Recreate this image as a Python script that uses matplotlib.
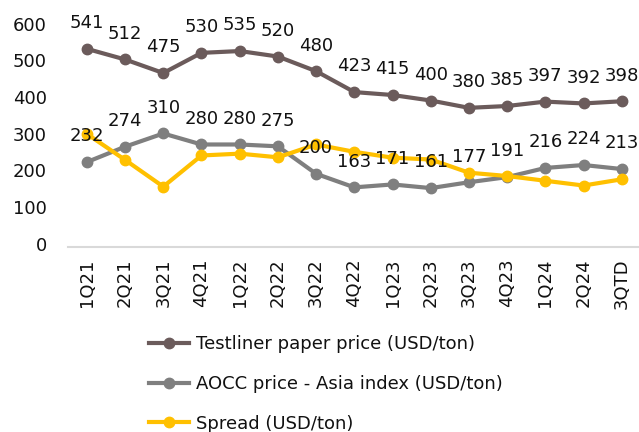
import numpy as np
import matplotlib.pyplot as plt
import matplotlib.transforms as mtransforms

quarters = ['1Q21', '2Q21', '3Q21', '4Q21', '1Q22', '2Q22', '3Q22', '4Q22',
            '1Q23', '2Q23', '3Q23', '4Q23', '1Q24', '2Q24', '3QTD']
testliner = [541, 512, 475, 530, 535, 520, 480, 423, 415, 400, 380, 385, 397, 392, 398]
aocc = [232, 274, 310, 280, 280, 275, 200, 163, 171, 161, 177, 191, 216, 224, 213]
spread = [309, 238, 165, 250, 255, 245, 280, 260, 244, 239, 203, 194, 181, 168, 185]

plt.rcParams['font.family'] = ['DejaVu Sans']
FS = 13

fig = plt.figure(figsize=(6.39, 4.32), dpi=100)
ax = fig.add_axes([0.106, 0.428, 0.897, 0.509])

x = np.arange(len(quarters))
ax.plot(x, testliner, color='#6B5B5B', lw=3, marker='o', ms=7.5,
        label='Testliner paper price (USD/ton)', zorder=3)
ax.plot(x, aocc, color='#7F7F7F', lw=3, marker='o', ms=7.5,
        label='AOCC price - Asia index (USD/ton)', zorder=2)
ax.plot(x, spread, color='#FFC000', lw=3, marker='o', ms=7.5,
        label='Spread (USD/ton)', zorder=4)

# data labels above testliner and aocc
for xi, v in zip(x, testliner):
    ax.annotate(str(v), (xi, v), xytext=(0, 12), textcoords='offset points',
                ha='center', va='bottom', fontsize=FS, color='#111111', zorder=5)
for xi, v in zip(x, aocc):
    ax.annotate(str(v), (xi, v), xytext=(0, 12), textcoords='offset points',
                ha='center', va='bottom', fontsize=FS, color='#111111', zorder=5)

ax.set_xlim(-0.5, len(quarters) - 0.5)
ax.set_ylim(0, 600)
ax.set_yticks(range(0, 700, 100))
ax.set_xticks(x)
ax.set_xticklabels(quarters)
ax.tick_params(axis='both', length=0, labelsize=FS, colors='#111111')
ax.tick_params(axis='y', pad=15)
ax.tick_params(axis='x', pad=8, labelrotation=90)
# y labels sit a little above their gridline in the original
shift = mtransforms.ScaledTranslation(0, 3.5 / 100, fig.dpi_scale_trans)
for lbl in ax.get_yticklabels():
    lbl.set_transform(lbl.get_transform() + shift)
for s in ['top', 'right', 'left']:
    ax.spines[s].set_visible(False)
ax.spines['bottom'].set_color('#D9D9D9')
ax.spines['bottom'].set_linewidth(1.5)

leg = ax.legend(loc='upper left', bbox_to_anchor=(0.129, -0.369), frameon=False,
                fontsize=FS, handlelength=2.2, labelspacing=1.2,
                handletextpad=0.4, borderaxespad=0)
for t in leg.get_texts():
    t.set_color('#111111')

fig.savefig('out.png', dpi=100)
